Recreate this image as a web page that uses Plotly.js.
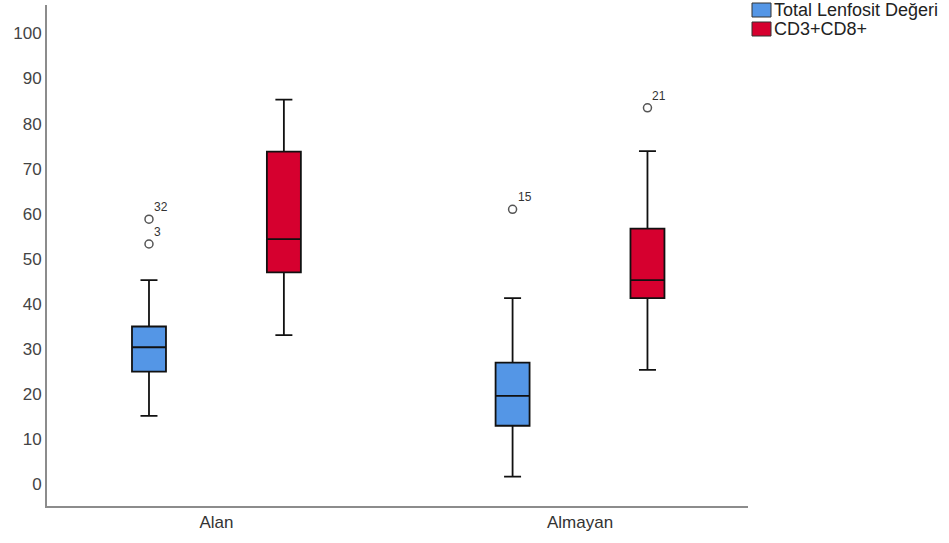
<!DOCTYPE html>
<html>
<head>
<meta charset="utf-8">
<script src="https://cdn.plot.ly/plotly-3.0.1.min.js"></script>
<style>html,body{margin:0;padding:0;background:#fff;}#chart{width:949px;height:543px;}</style>
</head>
<body>
<div id="chart"></div>
<script>
// ---- data ----
const categories = ['Alan', 'Almayan'];
const seriesNames = ['Total Lenfosit Değeri', 'CD3+CD8+'];

const lenfLower  = [15.2, 1.7];
const lenfQ1     = [25.0, 13.0];
const lenfMedian = [30.4, 19.6];
const lenfQ3     = [35.0, 27.0];
const lenfUpper  = [45.3, 41.3];
const lenfOutlierCat = ['Alan', 'Alan', 'Almayan'];
const lenfOutlierVal = [58.8, 53.3, 61.0];
const lenfOutlierId  = ['32', '3', '15'];

const cdLower  = [33.1, 25.4];
const cdQ1     = [47.0, 41.3];
const cdMedian = [54.4, 45.3];
const cdQ3     = [73.8, 56.7];
const cdUpper  = [85.3, 73.9];
const cdOutlierCat = ['Almayan'];
const cdOutlierVal = [83.5];
const cdOutlierId  = ['21'];

const yTicks = [0, 10, 20, 30, 40, 50, 60, 70, 80, 90, 100];

// ---- style ----
const colors = ['#5496E6', '#D6002F'];
const FONT = 'Liberation Sans, Arial, sans-serif';
const W = 949, H = 543;
const M = {l: 47, r: 201, t: 5, b: 37};
const xRange = [-0.466, 1.462];
const yRange = [-4.8, 106.3];
const GAP = 0.258, GROUPGAP = 0.748;

function boxTrace(name, color, lo, q1, med, q3, hi, grp) {
  return {
    type: 'box', name: name, x: categories, offsetgroup: grp,
    lowerfence: lo, q1: q1, median: med, q3: q3, upperfence: hi,
    fillcolor: color, line: {color: '#111', width: 1.8},
    whiskerwidth: 0.5, boxpoints: false, hoverinfo: 'skip', showlegend: false
  };
}
function outlierTrace(name, cats, vals, grp) {
  return {
    type: 'scatter', mode: 'markers', name: name, x: cats, y: vals,
    offsetgroup: grp, showlegend: false, hoverinfo: 'skip',
    marker: {symbol: 'circle-open', size: 8, color: '#555', line: {width: 1.5, color: '#555'}}
  };
}

const data = [
  boxTrace(seriesNames[0], colors[0], lenfLower, lenfQ1, lenfMedian, lenfQ3, lenfUpper, 'a'),
  boxTrace(seriesNames[1], colors[1], cdLower, cdQ1, cdMedian, cdQ3, cdUpper, 'b'),
  outlierTrace(seriesNames[0], lenfOutlierCat, lenfOutlierVal, 'a'),
  outlierTrace(seriesNames[1], cdOutlierCat, cdOutlierVal, 'b')
];

// pixel helpers for legend / label offsets
const plotW = W - M.l - M.r, plotH = H - M.t - M.b;
const pxPerCat = plotW / (xRange[1] - xRange[0]);
const groupOffsetPx = (1 - GAP) / 4 * pxPerCat;
const px2x = p => (p - M.l) / plotW;
const py2y = p => (H - M.b - p) / plotH;

const annotations = [];
function addLabels(cats, vals, ids, sign) {
  for (let i = 0; i < cats.length; i++) {
    annotations.push({
      x: cats[i], y: vals[i], text: ids[i], showarrow: false,
      xanchor: 'left', yanchor: 'bottom',
      xshift: sign * groupOffsetPx + 3, yshift: 3,
      font: {family: FONT, size: 12, color: '#333'}
    });
  }
}
addLabels(lenfOutlierCat, lenfOutlierVal, lenfOutlierId, -1);
addLabels(cdOutlierCat, cdOutlierVal, cdOutlierId, 1);

// custom legend
const shapes = [];
seriesNames.forEach((nm, i) => {
  const top = 3 + i * 19;
  shapes.push({
    type: 'rect', xref: 'paper', yref: 'paper',
    x0: px2x(752), x1: px2x(771), y0: py2y(top), y1: py2y(top + 14),
    fillcolor: colors[i], line: {color: '#333', width: 1}
  });
  annotations.push({
    xref: 'paper', yref: 'paper', x: px2x(772), y: py2y(top + 7),
    xanchor: 'left', yanchor: 'middle', showarrow: false, text: nm,
    font: {family: FONT, size: 18, color: '#222'}
  });
});

const layout = {
  width: W, height: H,
  margin: M,
  paper_bgcolor: '#fff', plot_bgcolor: '#fff',
  font: {family: FONT, color: '#333'},
  showlegend: false,
  boxmode: 'group', boxgap: GAP, boxgroupgap: GROUPGAP,
  scattermode: 'group', scattergap: GAP,
  xaxis: {
    type: 'category', range: xRange, showgrid: false, zeroline: false,
    showline: true, linecolor: '#8c8c8c', linewidth: 2, ticks: '',
    tickfont: {family: FONT, size: 17, color: '#333'}, fixedrange: true
  },
  yaxis: {
    range: yRange, showgrid: false, zeroline: false,
    showline: true, linecolor: '#8c8c8c', linewidth: 2, ticks: '',
    tickvals: yTicks, ticktext: yTicks.map(String),
    tickfont: {family: FONT, size: 17, color: '#444'}, fixedrange: true
  },
  shapes: shapes,
  annotations: annotations
};

Plotly.newPlot('chart', data, layout, {displayModeBar: false, staticPlot: true});
</script>
</body>
</html>
